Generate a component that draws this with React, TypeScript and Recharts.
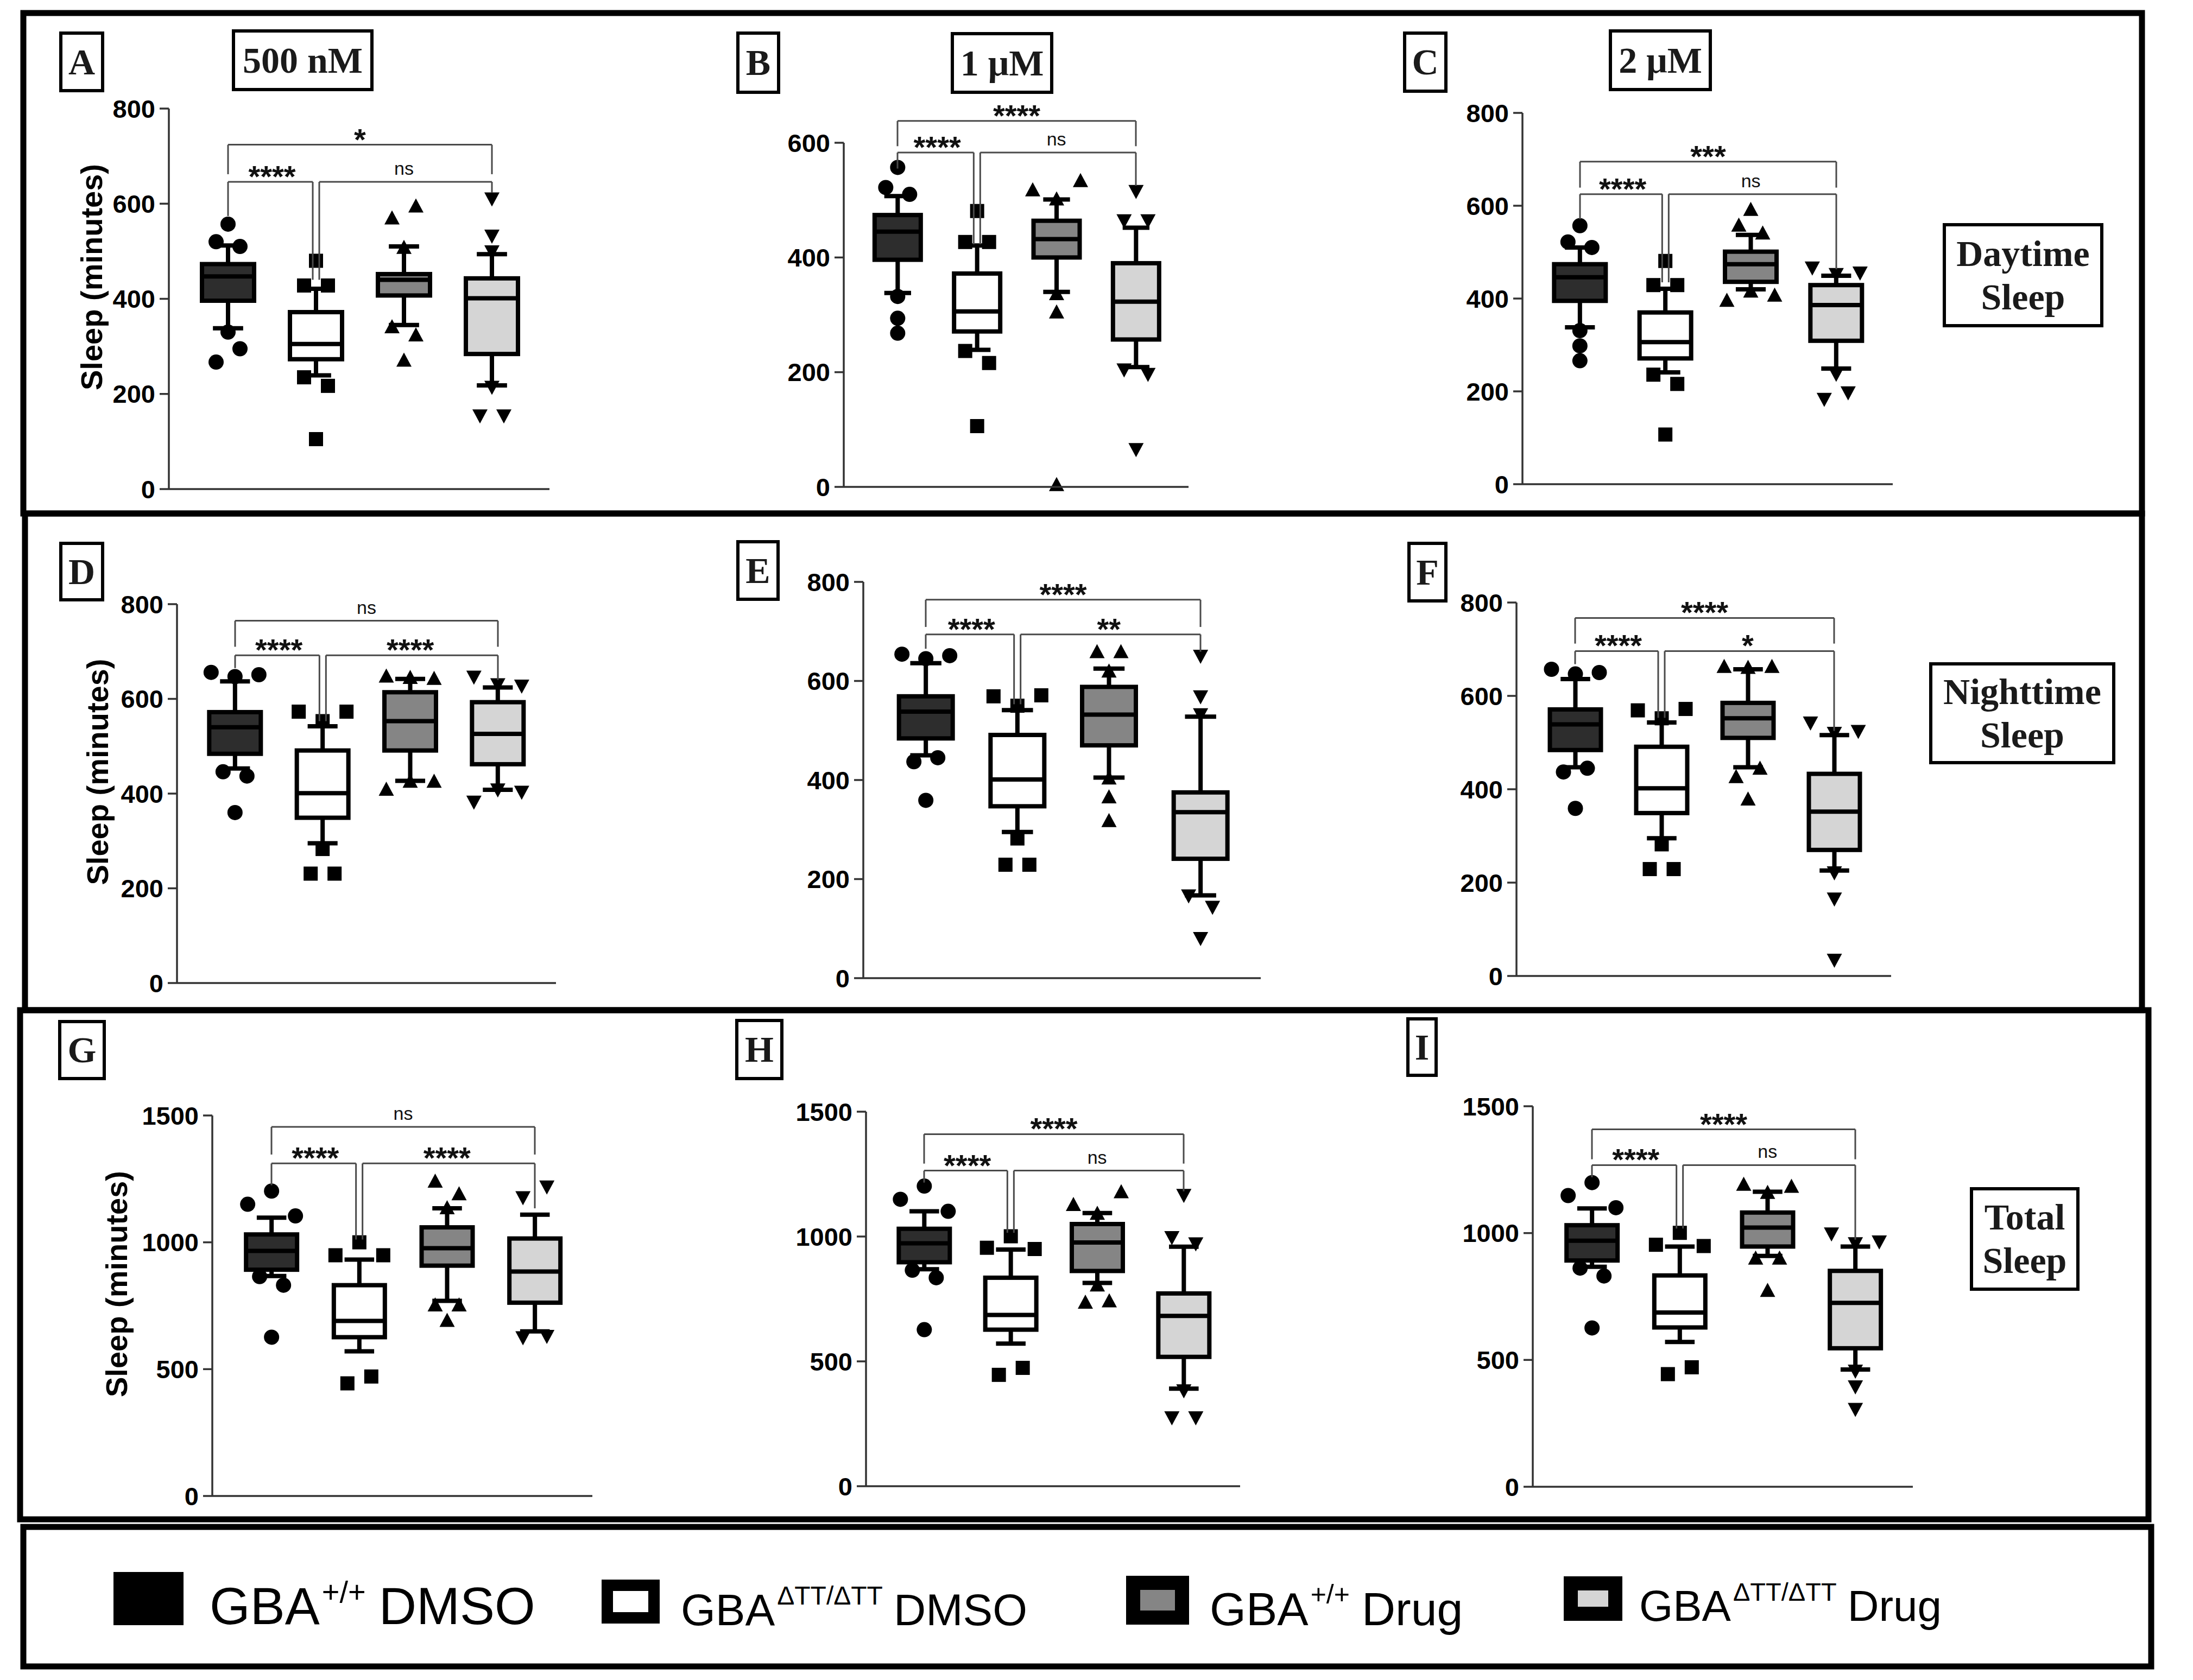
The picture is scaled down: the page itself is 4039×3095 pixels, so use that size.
import React from 'react';
import { ComposedChart, Bar, XAxis, YAxis, ReferenceLine } from 'recharts';

const SANS = '"Liberation Sans", Arial, Helvetica, sans-serif';
const SERIF = '"Liberation Serif", "Times New Roman", Times, serif';

const GROUPS = ['GBA+/+ DMSO', 'GBAΔTT/ΔTT DMSO', 'GBA+/+ Drug', 'GBAΔTT/ΔTT Drug'];
const FILLS = ['#2d2d2d', '#ffffff', '#858585', '#d5d5d5'];

const TICKS_800 = [0, 200, 400, 600, 800];
const TICKS_600 = [0, 200, 400, 600];
const TICKS_1500 = [0, 500, 1000, 1500];

type Sig = { from: number; to: number; y: number; legA: number; legB: number; text: string };

// box rows: [whisker low, Q1, median, Q3, whisker high] (minutes), one per group
// out rows: single flies drawn as points, in drawing order
const A_BOX = [[338, 396, 447, 473, 512], [239, 273, 305, 372, 421], [345, 407, 440, 452, 510], [218, 284, 401, 443, 494]];
const A_OUT = [[557, 520, 510, 330, 267, 295], [480, 428, 428, 235, 217, 105], [569, 594, 507, 340, 323, 270], [611, 533, 500, 215, 155, 155]];
const A_SIG: Sig[] = [
  { from: 0, to: 3, y: 724, legA: 662, legB: 662, text: '*' },
  { from: 0, to: 1, y: 646, legA: 574, legB: 440, text: '****' },
  { from: 1, to: 3, y: 646, legA: 440, legB: 623, text: 'ns' },
];

const B_BOX = [[338, 396, 445, 474, 507], [239, 271, 306, 372, 421], [340, 400, 432, 464, 501], [209, 257, 323, 390, 452]];
const B_OUT = [[557, 522, 510, 332, 294, 268], [481, 427, 427, 237, 216, 106], [517, 501, 533, 336, 304, 3], [516, 465, 465, 205, 197, 66]];
const B_SIG: Sig[] = [
  { from: 0, to: 3, y: 638, legA: 594, legB: 594, text: '****' },
  { from: 0, to: 1, y: 583, legA: 555, legB: 423, text: '****' },
  { from: 1, to: 3, y: 583, legA: 423, legB: 525, text: 'ns' },
];

const C_BOX = [[338, 395, 446, 474, 510], [241, 271, 306, 370, 421], [420, 436, 474, 501, 537], [249, 309, 386, 429, 449]];
const C_OUT = [[557, 522, 510, 331, 298, 266], [481, 429, 429, 236, 216, 107], [591, 557, 540, 395, 415, 406], [467, 453, 456, 238, 184, 198]];
const C_SIG: Sig[] = [
  { from: 0, to: 3, y: 695, legA: 639, legB: 639, text: '***' },
  { from: 0, to: 1, y: 625, legA: 571, legB: 435, text: '****' },
  { from: 1, to: 3, y: 625, legA: 435, legB: 463, text: 'ns' },
];

const D_BOX = [[453, 484, 540, 572, 637], [295, 349, 401, 491, 542], [427, 491, 553, 614, 642], [408, 462, 526, 593, 624]];
const D_OUT = [[656, 647, 651, 446, 437, 360], [573, 553, 573, 283, 231, 231], [647, 644, 642, 408, 425, 425], [647, 631, 628, 383, 409, 404]];
const D_SIG: Sig[] = [
  { from: 0, to: 3, y: 765, legA: 710, legB: 710, text: 'ns' },
  { from: 0, to: 1, y: 692, legA: 665, legB: 553, text: '****' },
  { from: 1, to: 3, y: 692, legA: 553, legB: 640, text: '****' },
];

const E_BOX = [[450, 484, 538, 569, 636], [295, 347, 401, 491, 541], [405, 470, 532, 588, 625], [167, 241, 335, 375, 528]];
const E_OUT = [[654, 645, 651, 437, 445, 359], [569, 550, 571, 282, 229, 229], [658, 658, 619, 403, 365, 317], [651, 569, 533, 167, 144, 81]];
const E_SIG: Sig[] = [
  { from: 0, to: 3, y: 764, legA: 709, legB: 709, text: '****' },
  { from: 0, to: 1, y: 694, legA: 665, legB: 553, text: '****' },
  { from: 1, to: 3, y: 694, legA: 553, legB: 659, text: '**' },
];

const F_BOX = [[447, 484, 539, 571, 636], [295, 349, 402, 491, 543], [447, 510, 552, 585, 657], [226, 270, 352, 433, 516]];
const F_OUT = [[657, 647, 650, 437, 445, 359], [569, 552, 572, 282, 229, 229], [662, 660, 662, 426, 444, 378], [543, 521, 525, 222, 166, 35]];
const F_SIG: Sig[] = [
  { from: 0, to: 3, y: 767, legA: 712, legB: 712, text: '****' },
  { from: 0, to: 1, y: 696, legA: 668, legB: 553, text: '****' },
  { from: 1, to: 3, y: 696, legA: 553, legB: 525, text: '*' },
];

const G_BOX = [[867, 892, 966, 1031, 1097], [570, 626, 690, 831, 932], [769, 908, 977, 1059, 1134], [649, 762, 885, 1015, 1109]];
const G_OUT = [[1150, 1202, 1104, 865, 831, 626], [949, 1000, 949, 444, 471], [1239, 1189, 1134, 751, 751, 690], [1178, 1220, 626, 631]];
const G_SIG: Sig[] = [
  { from: 0, to: 3, y: 1455, legA: 1346, legB: 1346, text: 'ns' },
  { from: 0, to: 1, y: 1311, legA: 1225, legB: 1011, text: '****' },
  { from: 1, to: 3, y: 1311, legA: 1011, legB: 1134, text: '****' },
];

const H_BOX = [[869, 897, 973, 1031, 1101], [571, 627, 686, 835, 948], [814, 862, 976, 1050, 1094], [391, 518, 682, 772, 959]];
const H_OUT = [[1149, 1202, 1101, 865, 835, 627], [955, 1001, 950, 446, 474], [1126, 1091, 1177, 804, 735, 740], [1167, 998, 973, 384, 276, 276]];
const H_SIG: Sig[] = [
  { from: 0, to: 3, y: 1410, legA: 1292, legB: 1292, text: '****' },
  { from: 0, to: 1, y: 1264, legA: 1216, legB: 1015, text: '****' },
  { from: 1, to: 3, y: 1264, legA: 1015, legB: 1181, text: 'ns' },
];

const I_BOX = [[867, 892, 970, 1031, 1097], [571, 628, 687, 833, 947], [910, 947, 1022, 1081, 1163], [462, 546, 725, 851, 947]];
const I_OUT = [[1148, 1199, 1100, 862, 831, 626], [954, 1001, 949, 444, 471], [1190, 1158, 1182, 899, 899, 772], [999, 960, 967, 458, 396, 307]];
const I_SIG: Sig[] = [
  { from: 0, to: 3, y: 1409, legA: 1291, legB: 1291, text: '****' },
  { from: 0, to: 1, y: 1268, legA: 1220, legB: 1018, text: '****' },
  { from: 1, to: 3, y: 1268, legA: 1018, legB: 974, text: 'ns' },
];

const LEGEND_SUP = ['+/+', 'ΔTT/ΔTT', '+/+', 'ΔTT/ΔTT'];
const LEGEND_TAIL = ['DMSO', 'DMSO', 'Drug', 'Drug'];

const PANELS = [
  { box: A_BOX, out: A_OUT, sig: A_SIG, max: 800, ticks: TICKS_800, axisX: 311, yTop: 200, yZero: 901, xEnd: 1012, c1: 420, c4: 906, boxW: 104, titleX: 168 },
  { box: B_BOX, out: B_OUT, sig: B_SIG, max: 600, ticks: TICKS_600, axisX: 1554, yTop: 263, yZero: 897, xEnd: 2189, c1: 1653, c4: 2092, boxW: 93 },
  { box: C_BOX, out: C_OUT, sig: C_SIG, max: 800, ticks: TICKS_800, axisX: 2804, yTop: 208, yZero: 892, xEnd: 3486, c1: 2910, c4: 3382, boxW: 103 },
  { box: D_BOX, out: D_OUT, sig: D_SIG, max: 800, ticks: TICKS_800, axisX: 326, yTop: 1113, yZero: 1811, xEnd: 1024, c1: 433, c4: 917, boxW: 103, titleX: 179 },
  { box: E_BOX, out: E_OUT, sig: E_SIG, max: 800, ticks: TICKS_800, axisX: 1590, yTop: 1072, yZero: 1802, xEnd: 2322, c1: 1705, c4: 2211, boxW: 107 },
  { box: F_BOX, out: F_OUT, sig: F_SIG, max: 800, ticks: TICKS_800, axisX: 2793, yTop: 1110, yZero: 1798, xEnd: 3483, c1: 2901, c4: 3378, boxW: 102 },
  { box: G_BOX, out: G_OUT, sig: G_SIG, max: 1500, ticks: TICKS_1500, axisX: 391, yTop: 2055, yZero: 2756, xEnd: 1091, c1: 500, c4: 985, boxW: 102, titleX: 214 },
  { box: H_BOX, out: H_OUT, sig: H_SIG, max: 1500, ticks: TICKS_1500, axisX: 1595, yTop: 2048, yZero: 2738, xEnd: 2284, c1: 1702, c4: 2180, boxW: 102 },
  { box: I_BOX, out: I_OUT, sig: I_SIG, max: 1500, ticks: TICKS_1500, axisX: 2823, yTop: 2038, yZero: 2739, xEnd: 3523, c1: 2932, c4: 3417, boxW: 102 },
];

// outer frames and text boxes of the figure
const FRAMES = [[43, 24, 3945, 946], [46, 946, 3945, 1861], [37, 1861, 3957, 2799], [43, 2813, 3962, 3070]];
const TAGS: { r: number[]; lines: string[] }[] = [
  { r: [109, 58, 192, 170], lines: ['A'] },
  { r: [1356, 58, 1437, 173], lines: ['B'] },
  { r: [2584, 58, 2666, 171], lines: ['C'] },
  { r: [109, 998, 192, 1108], lines: ['D'] },
  { r: [1356, 995, 1436, 1107], lines: ['E'] },
  { r: [2592, 998, 2666, 1110], lines: ['F'] },
  { r: [107, 1879, 195, 1990], lines: ['G'] },
  { r: [1354, 1877, 1443, 1990], lines: ['H'] },
  { r: [2590, 1874, 2648, 1984], lines: ['I'] },
  { r: [427, 54, 688, 168], lines: ['500 nM'] },
  { r: [1751, 59, 1940, 173], lines: ['1 μM'] },
  { r: [2963, 54, 3153, 168], lines: ['2 μM'] },
  { r: [3578, 411, 3874, 603], lines: ['Daytime', 'Sleep'] },
  { r: [3553, 1220, 3896, 1408], lines: ['Nighttime', 'Sleep'] },
  { r: [3628, 2187, 3830, 2378], lines: ['Total', 'Sleep'] },
];

const STEP = 44;
const YW = 260;
const TOP = 220;
const RIGHT = 24;
const XH = 30;

// spread points of similar value side by side (symmetric, like Prism)
function spread(values: number[], pxPerUnit: number): number[] {
  const order = values.map((_, j) => j).sort((a, b) => values[b] - values[a]);
  const res = values.map(() => 0);
  let run: number[] = [];
  const flush = () => {
    const c = [...run].sort((a, b) => a - b);
    c.forEach((j, n) => {
      res[j] = n - (c.length - 1) / 2;
    });
  };
  order.forEach((j) => {
    const last = run[run.length - 1];
    if (run.length && (values[last] - values[j]) * pxPerUnit >= 25) {
      flush();
      run = [];
    }
    run.push(j);
  });
  if (run.length) flush();
  return res;
}

function Marker({ kind, cx, cy }: { kind: number; cx: number; cy: number }) {
  if (kind === 0) return <circle cx={cx} cy={cy} r={14} fill="#000" />;
  if (kind === 1) return <rect x={cx - 13} y={cy - 13} width={26} height={26} fill="#000" />;
  if (kind === 2) return <path d={`M${cx},${cy - 15} L${cx + 14},${cy + 11} L${cx - 14},${cy + 11} Z`} fill="#000" />;
  return <path d={`M${cx},${cy + 15} L${cx + 14},${cy - 11} L${cx - 14},${cy - 11} Z`} fill="#000" />;
}

function BoxGlyph(props: any) {
  const { x, y, width, height, payload } = props;
  if (!payload) return null;
  const top = Math.min(y, y + height);
  const bottom = Math.max(y, y + height);
  const k = (bottom - top) / (payload.hi - payload.lo);
  const py = (v: number) => bottom - (v - payload.lo) * k;
  const cx = x + width / 2;
  const cap = width * 0.29;
  const offs = spread(payload.out, k);
  const sw = 8;
  return (
    <g>
      <line x1={cx} x2={cx} y1={py(payload.hi)} y2={py(payload.lo)} stroke="#000" strokeWidth={sw} />
      <line x1={cx - cap} x2={cx + cap} y1={py(payload.hi)} y2={py(payload.hi)} stroke="#000" strokeWidth={sw} />
      <line x1={cx - cap} x2={cx + cap} y1={py(payload.lo)} y2={py(payload.lo)} stroke="#000" strokeWidth={sw} />
      <rect
        x={x}
        y={py(payload.q3)}
        width={width}
        height={py(payload.q1) - py(payload.q3)}
        fill={FILLS[payload.i]}
        stroke="#000"
        strokeWidth={sw}
      />
      <line x1={x} x2={x + width} y1={py(payload.med)} y2={py(payload.med)} stroke="#000" strokeWidth={sw} />
      {payload.out.map((v: number, j: number) => (
        <Marker key={j} kind={payload.i} cx={cx + offs[j] * STEP} cy={py(v)} />
      ))}
    </g>
  );
}

const shifted = (dxA: number, dxB: number) => (p: any) => (
  <line x1={p.x1 + dxA} y1={p.y1} x2={p.x2 + dxB} y2={p.y2} stroke="#4a4a4a" strokeWidth={3} />
);

function Panel({ p }: { p: (typeof PANELS)[number] }) {
  const left = p.axisX - YW;
  const top = p.yTop - TOP;
  const width = p.xEnd + RIGHT - left;
  const height = p.yZero + XH - top;
  const band = (p.c4 - p.c1) / 3;
  const padL = p.c1 - p.axisX - band / 2;
  const padR = p.xEnd - p.c4 - band / 2;
  const rows = GROUPS.map((group, i) => ({
    group,
    i,
    lo: p.box[i][0],
    q1: p.box[i][1],
    med: p.box[i][2],
    q3: p.box[i][3],
    hi: p.box[i][4],
    out: p.out[i],
  }));

  const yLabel = (lp: any) => {
    const vb = lp?.viewBox ?? { x: 0, y: TOP, width: YW, height: p.yZero - p.yTop };
    const tx = vb.x + ((p.titleX ?? 0) - left);
    const ty = vb.y + vb.height / 2 - 40;
    return (
      <text
        x={tx}
        y={ty}
        transform={`rotate(-90, ${tx}, ${ty})`}
        textAnchor="middle"
        dominantBaseline="central"
        fontFamily={SANS}
        fontWeight={700}
        fontSize={56}
        fill="#000"
      >
        Sleep (minutes)
      </text>
    );
  };

  return (
    <div style={{ position: 'absolute', left, top }}>
      <ComposedChart width={width} height={height} data={rows} margin={{ top: TOP, right: RIGHT, left: 0, bottom: 0 }}>
        <XAxis
          dataKey="group"
          type="category"
          height={XH}
          tick={false}
          tickLine={false}
          axisLine={{ stroke: '#333', strokeWidth: 3.5 }}
          padding={{ left: padL, right: padR }}
        />
        <YAxis
          type="number"
          domain={[0, p.max]}
          ticks={p.ticks}
          interval={0}
          width={YW}
          tickSize={17}
          tickMargin={8}
          tick={{ fill: '#000', fontSize: 47, fontWeight: 700, fontFamily: SANS }}
          tickLine={{ stroke: '#333', strokeWidth: 3.5 }}
          axisLine={{ stroke: '#333', strokeWidth: 3.5 }}
          label={p.titleX ? yLabel : undefined}
        />
        <Bar
          dataKey={(d: any) => [d.lo, d.hi]}
          barSize={p.boxW - 8}
          isAnimationActive={false}
          shape={(sp: any) => <BoxGlyph {...sp} />}
        />
        {p.sig.map((s, n) => {
          const dxA = s.from === 1 ? 6 : 0;
          const dxB = s.to === 1 ? -6 : 0;
          const stars = s.text !== 'ns';
          return [
            <ReferenceLine
              key={`h${n}`}
              segment={[{ x: GROUPS[s.from], y: s.y }, { x: GROUPS[s.to], y: s.y }]}
              ifOverflow="visible"
              stroke="#4a4a4a"
              strokeWidth={3}
              shape={shifted(dxA, dxB)}
              label={{
                value: s.text,
                position: 'top',
                offset: stars ? -9 : 13,
                fill: '#111',
                fontSize: stars ? 56 : 34,
                fontWeight: stars ? 700 : 400,
                fontFamily: SANS,
              }}
            />,
            <ReferenceLine
              key={`a${n}`}
              segment={[{ x: GROUPS[s.from], y: s.y }, { x: GROUPS[s.from], y: s.legA }]}
              ifOverflow="visible"
              stroke="#4a4a4a"
              strokeWidth={3}
              shape={shifted(dxA, dxA)}
            />,
            <ReferenceLine
              key={`b${n}`}
              segment={[{ x: GROUPS[s.to], y: s.y }, { x: GROUPS[s.to], y: s.legB }]}
              ifOverflow="visible"
              stroke="#4a4a4a"
              strokeWidth={3}
              shape={shifted(dxB, dxB)}
            />,
          ];
        })}
      </ComposedChart>
    </div>
  );
}

function Decor() {
  return (
    <svg width={4039} height={3095} style={{ position: 'absolute', left: 0, top: 0 }}>
      <rect x={0} y={0} width={4039} height={3095} fill="#fff" />
      {FRAMES.map(([x1, y1, x2, y2], n) => (
        <rect key={n} x={x1} y={y1} width={x2 - x1} height={y2 - y1} fill="none" stroke="#000" strokeWidth={11} />
      ))}
      {TAGS.map((t, n) => {
        const [x1, y1, x2, y2] = t.r;
        const cx = (x1 + x2) / 2;
        const cy = (y1 + y2) / 2;
        const fs = 68;
        const base = cy + fs * 0.331;
        return (
          <g key={n}>
            <rect x={x1 + 3} y={y1 + 3} width={x2 - x1 - 6} height={y2 - y1 - 6} fill="#fff" stroke="#000" strokeWidth={6} />
            {t.lines.map((line, li) => (
              <text
                key={li}
                x={cx}
                y={t.lines.length === 1 ? base : base - 40 + li * 80}
                textAnchor="middle"
                fontFamily={SERIF}
                fontWeight={700}
                fontSize={fs}
                fill="#1a1a1a"
              >
                {line}
              </text>
            ))}
          </g>
        );
      })}
      {/* legend */}
      <rect x={209} y={2896} width={129} height={98} fill="#000" />
      <rect x={1118.5} y={2920.5} width={86} height={60} fill={FILLS[1]} stroke="#000" strokeWidth={21} />
      <rect x={2087} y={2916} width={90} height={64} fill={FILLS[2]} stroke="#000" strokeWidth={26} />
      <rect x={2893} y={2917} width={82} height={56} fill={FILLS[3]} stroke="#000" strokeWidth={26} />
      {[
        { x: 386, y: 2992, fs: 96, sfs: 56, dy: 40, gap: 24 },
        { x: 1254, y: 2994, fs: 82, sfs: 48, dy: 38, gap: 20 },
        { x: 2228, y: 2994, fs: 86, sfs: 50, dy: 40, gap: 22 },
        { x: 3019, y: 2986, fs: 80, sfs: 47, dy: 37, gap: 20 },
      ].map((l, n) => (
        <text key={n} x={l.x} y={l.y} fontFamily={SANS} fontSize={l.fs} fill="#000">
          GBA
          <tspan fontSize={l.sfs} dy={-l.dy} dx={4}>
            {LEGEND_SUP[n]}
          </tspan>
          <tspan dy={l.dy} dx={l.gap}>
            {LEGEND_TAIL[n]}
          </tspan>
        </text>
      ))}
    </svg>
  );
}

export default function App() {
  return (
    <div style={{ position: 'absolute', left: 0, top: 0, width: 4039, height: 3095, background: '#fff' }}>
      <Decor />
      {PANELS.map((p, n) => (
        <Panel key={n} p={p} />
      ))}
    </div>
  );
}
